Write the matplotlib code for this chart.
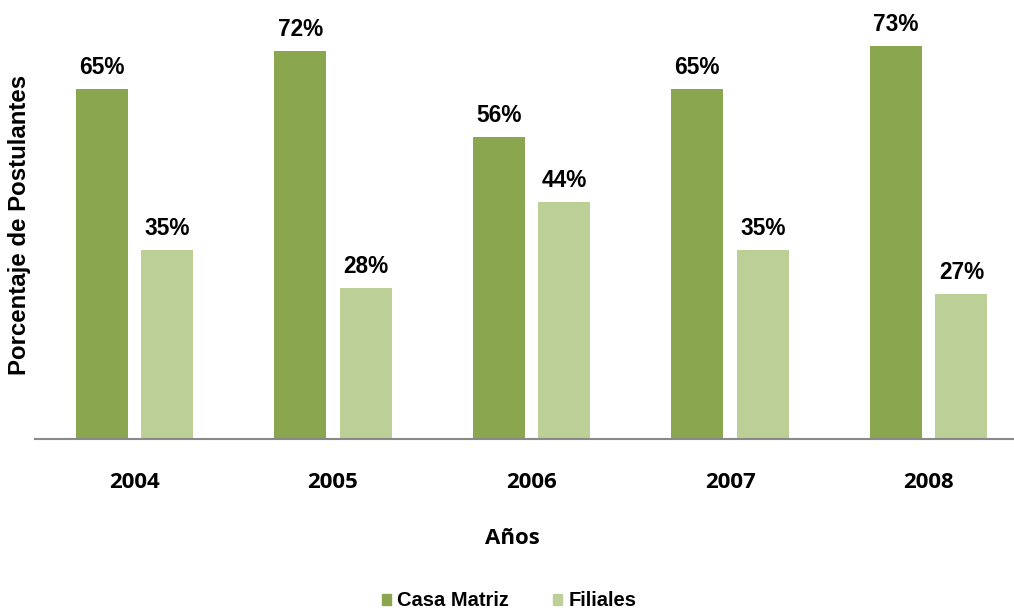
import matplotlib
matplotlib.use("Agg")
import matplotlib.pyplot as plt
import numpy as np
from matplotlib.patches import Patch

years = ["2004", "2005", "2006", "2007", "2008"]
casa_matriz = [65, 72, 56, 65, 73]
filiales = [35, 28, 44, 35, 27]
series_names = ["Casa Matriz", "Filiales"]
colors = ["#8AA64F", "#BBCF97"]

fig = plt.figure(figsize=(10.14, 6.13), dpi=100)
ax = fig.add_axes([35/1014, 1-439/613, (1028-35)/1014, 431/613])

x = np.arange(len(years))
w = 0.262
off = 0.165
b1 = ax.bar(x - off, casa_matriz, w, color=colors[0])
b2 = ax.bar(x + off, filiales, w, color=colors[1])

for bars, vals in ((b1, casa_matriz), (b2, filiales)):
    for rect, v in zip(bars, vals):
        ax.annotate(f"{v}%", (rect.get_x() + rect.get_width()/2, rect.get_height()),
                    xytext=(0, 10.8), textcoords="offset points",
                    ha="center", va="baseline", fontsize=16.3,
                    fontweight="bold", family="Liberation Sans")

ax.set_xlim(-0.5, len(years) - 0.5)
ax.set_ylim(0, 80)
ax.set_xticks(x)
ax.set_xticklabels(years, family="Open Sans", fontweight="bold", fontsize=16)
ax.tick_params(axis="x", length=0, pad=24)
ax.set_yticks([])
for s in ("left", "right", "top"):
    ax.spines[s].set_visible(False)
ax.spines["bottom"].set_color("#898989")
ax.spines["bottom"].set_linewidth(1.5)

fig.text(512/1014, 1-538/613, "Años", ha="center", va="center",
         family="Open Sans", fontweight="bold", fontsize=16)
fig.text(20/1014, 1-225/613, "Porcentaje de Postulantes", rotation=90,
         ha="center", va="center", family="Liberation Sans",
         fontweight="bold", fontsize=17.3)

handles = [Patch(color=c) for c in colors]
fig.legend(handles, series_names, loc="center", bbox_to_anchor=(509/1014, 1-601/613),
           ncol=2, frameon=False, prop={"family": "Liberation Sans", "weight": "bold", "size": 14.5},
           handlelength=0.45, handleheight=0.45, handletextpad=0.3, columnspacing=2.2,
           borderpad=0, borderaxespad=0)

fig.savefig("out.png", dpi=100)
